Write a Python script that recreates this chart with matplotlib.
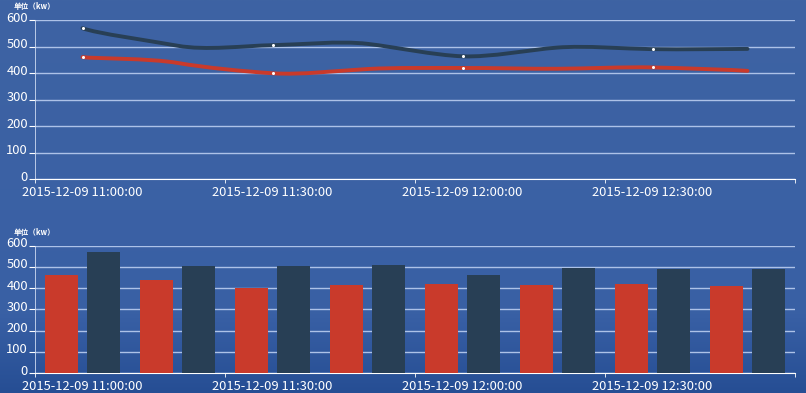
import numpy as np
import matplotlib
matplotlib.use("Agg")
import matplotlib.pyplot as plt
import matplotlib.transforms as mtransforms
from matplotlib.path import Path
from matplotlib.patches import PathPatch

plt.rcParams['font.family'] = ['Noto Sans CJK SC', 'DejaVu Sans']

# data
TIMES = ["2015-12-09 11:00:00", "2015-12-09 11:15:00", "2015-12-09 11:30:00", "2015-12-09 11:45:00",
         "2015-12-09 12:00:00", "2015-12-09 12:15:00", "2015-12-09 12:30:00", "2015-12-09 12:45:00"]
RED_VALUES = [460, 438, 399, 415, 419, 416, 421, 408]
DARK_VALUES = [569, 503, 505, 510, 463, 496, 490, 491]
Y_TICKS = [0, 100, 200, 300, 400, 500, 600]
UNIT_LABEL = "单位（kw）"

RED = "#c93a2b"
DARK = "#283f55"
GRID = "#adc2e8"
W, H = 806, 393


def smooth_path(xs, ys, k=0.3):
    # cubic bezier through the points, cardinal-spline style
    xs = np.asarray(xs, float)
    ys = np.asarray(ys, float)
    n = len(xs)
    verts = [(xs[0], ys[0])]
    codes = [Path.MOVETO]
    for i in range(n - 1):
        p0 = i - 1 if i > 0 else i
        p3 = i + 2 if i + 2 < n else i + 1
        c1 = (xs[i] + (xs[i + 1] - xs[p0]) * k / 2, ys[i] + (ys[i + 1] - ys[p0]) * k)
        c2 = (xs[i + 1] - (xs[p3] - xs[i]) * k / 2, ys[i + 1] - (ys[p3] - ys[i]) * k)
        verts += [c1, c2, (xs[i + 1], ys[i + 1])]
        codes += [Path.CURVE4] * 3
    return Path(verts, codes)


def style_axis(ax, top_px):
    ax.set_facecolor("none")
    ax.set_xlim(-0.5, len(TIMES) - 0.5)
    ax.set_ylim(0, 600)
    ax.set_yticks(Y_TICKS)
    ax.set_yticklabels([str(v) for v in Y_TICKS])
    ax.set_xticks(range(0, len(TIMES), 2))
    ax.set_xticklabels(TIMES[::2])
    ax.set_xticks([b - 0.5 for b in range(0, len(TIMES) + 1, 2)], minor=True)
    ax.tick_params(axis="x", which="major", length=0, pad=5, labelsize=9.3, colors="white")
    ax.tick_params(axis="x", which="minor", length=3, color="white", direction="out")
    ax.tick_params(axis="y", length=4, pad=1, labelsize=9.3, colors="white")
    # nudge y labels up a little so "0" clears the date labels
    shift = mtransforms.ScaledTranslation(0, 2.5 / 72, ax.figure.dpi_scale_trans)
    for lbl in ax.get_yticklabels():
        lbl.set_transform(lbl.get_transform() + shift)
    for s in ["top", "right"]:
        ax.spines[s].set_visible(False)
    ax.spines["bottom"].set_color("white")
    ax.spines["left"].set_color("#d0dcf2")
    ax.spines["left"].set_linewidth(0.6)
    ax.grid(axis="y", color=GRID, linewidth=1.0)
    ax.set_axisbelow(True)
    ax.text(14 / W, 1 - (top_px - 13) / H, UNIT_LABEL, transform=ax.figure.transFigure,
            fontsize=5.5, color="white", va="center", ha="left", fontweight="bold")


fig = plt.figure(figsize=(W / 100, H / 100), dpi=100)

# background gradient
bg = fig.add_axes([0, 0, 1, 1])
top = np.array([62, 99, 163]) / 255
mid = np.array([57, 96, 165]) / 255
bot = np.array([38, 78, 148]) / 255
t = np.linspace(0, 1, 200)[:, None]
grad = np.where(t < 0.8, top + (mid - top) * (t / 0.8), mid + (bot - mid) * ((t - 0.8) / 0.2))
bg.imshow(grad[:, None, :].repeat(2, axis=1), aspect="auto", extent=[0, 1, 0, 1])
bg.axis("off")

# top: smooth lines
ax1 = fig.add_axes([35 / W, 1 - 179 / H, 760 / W, 159 / H])
style_axis(ax1, 20)
x = np.arange(len(TIMES))
for vals, col in [(DARK_VALUES, DARK), (RED_VALUES, RED)]:
    ax1.add_patch(PathPatch(smooth_path(x, vals), facecolor="none", edgecolor=col, linewidth=2.8,
                            capstyle="round", zorder=3))
    ax1.plot(x[::2], np.array(vals)[::2], linestyle="none", marker="o", markersize=2.2,
             color="white", markeredgewidth=0, zorder=4)

# bottom: bars
ax2 = fig.add_axes([35 / W, 1 - 373 / H, 760 / W, 127.3 / H])
style_axis(ax2, 245.7)
bw = 0.35
ax2.bar(x - 0.22, RED_VALUES, width=bw, color=RED, zorder=3)
ax2.bar(x + 0.22, DARK_VALUES, width=bw, color=DARK, zorder=3)

fig.savefig("out.png", dpi=100)
